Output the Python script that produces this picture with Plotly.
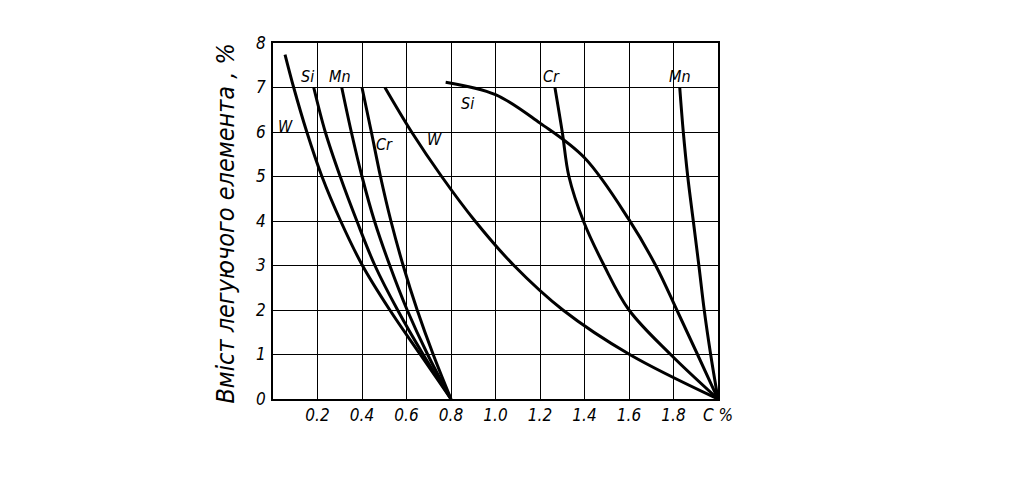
import plotly.graph_objects as go

# ---- data (C %, alloying element %) ----
w1_x = [0.054, 0.093, 0.152, 0.220, 0.304, 0.402, 0.525, 0.662, 0.80]
w1_y = [7.74, 7.0, 6.0, 5.0, 4.0, 3.0, 2.0, 1.0, 0.0]
si1_x = [0.183, 0.235, 0.302, 0.377, 0.458, 0.560, 0.675, 0.80]
si1_y = [7.0, 6.0, 5.0, 4.0, 3.0, 2.0, 1.0, 0.0]
mn1_x = [0.309, 0.352, 0.400, 0.456, 0.525, 0.603, 0.695, 0.80]
mn1_y = [7.0, 6.0, 5.0, 4.0, 3.0, 2.0, 1.0, 0.0]
cr1_x = [0.400, 0.442, 0.483, 0.530, 0.585, 0.648, 0.720, 0.80]
cr1_y = [7.0, 6.0, 5.0, 4.0, 3.0, 2.0, 1.0, 0.0]
w2_x = [0.503, 0.623, 0.758, 0.908, 1.083, 1.303, 1.603, 2.0]
w2_y = [7.0, 6.0, 5.0, 4.0, 3.0, 2.0, 1.0, 0.0]
si2_x = [0.776, 1.0, 1.2, 1.4, 1.6, 1.72, 1.815, 1.908, 2.0]
si2_y = [7.12, 6.84, 6.2, 5.42, 4.03, 3.0, 2.0, 1.0, 0.0]
cr2_x = [1.267, 1.300, 1.330, 1.395, 1.488, 1.600, 1.787, 2.0]
cr2_y = [7.0, 6.0, 5.0, 4.0, 3.0, 2.0, 1.0, 0.0]
mn2_x = [1.828, 1.844, 1.864, 1.889, 1.914, 1.938, 1.967, 2.0]
mn2_y = [7.0, 6.0, 5.0, 4.0, 3.0, 2.0, 1.0, 0.0]

x_tickvals = [0.2, 0.4, 0.6, 0.8, 1.0, 1.2, 1.4, 1.6, 1.8, 2.0]
x_ticktext = ["0.2", "0.4", "0.6", "0.8", "1.0", "1.2", "1.4", "1.6", "1.8", "C %"]
y_tickvals = [0, 1, 2, 3, 4, 5, 6, 7, 8]

label_text = ["W", "Si", "Mn", "Cr", "W", "Si", "Cr", "Mn", "E"]
label_x = [0.057, 0.156, 0.299, 0.502, 0.727, 0.875, 1.252, 1.827, 2.044]
label_y = [6.12, 7.24, 7.24, 5.71, 5.83, 6.64, 7.24, 7.24, 0.37]

y_title = "Вміст легуючого елемента , %"

FONT = "DejaVu Sans Condensed, DejaVu Sans"

fig = go.Figure()
for xs, ys in [(w1_x, w1_y), (si1_x, si1_y), (mn1_x, mn1_y), (cr1_x, cr1_y),
               (w2_x, w2_y), (si2_x, si2_y), (cr2_x, cr2_y), (mn2_x, mn2_y)]:
    fig.add_trace(go.Scatter(x=xs, y=ys, mode="lines",
                             line=dict(color="black", width=3, shape="spline", smoothing=1.0),
                             showlegend=False, hoverinfo="skip"))

for t, lx, ly in zip(label_text, label_x, label_y):
    fig.add_annotation(x=lx, y=ly, text=t, showarrow=False,
                       font=dict(family=FONT, size=16, color="black", style="italic"))

fig.add_annotation(xref="paper", yref="paper", x=-0.106, y=0.495, text=y_title,
                   textangle=-90, showarrow=False, xanchor="center", yanchor="middle",
                   font=dict(family=FONT, size=25, color="black", style="italic"))

fig.update_xaxes(range=[0, 2], tickvals=x_tickvals, ticktext=x_ticktext,
                 showgrid=True, gridcolor="black", gridwidth=1.3,
                 showline=True, linecolor="black", linewidth=1.5, mirror=True,
                 zeroline=False, ticks="", ticklabelstandoff=0,
                 tickfont=dict(family=FONT, size=17, color="black", style="italic"))
fig.update_yaxes(range=[0, 8], tickvals=y_tickvals,
                 showgrid=True, gridcolor="black", gridwidth=1.3,
                 showline=True, linecolor="black", linewidth=1.5, mirror=True,
                 zeroline=False, ticks="", ticklabelstandoff=2,
                 tickfont=dict(family=FONT, size=17, color="black", style="italic"))

fig.update_layout(width=1024, height=484,
                  margin=dict(l=265, r=314, t=35, b=93),
                  plot_bgcolor="white", paper_bgcolor="white")

fig.write_html("out.html")
